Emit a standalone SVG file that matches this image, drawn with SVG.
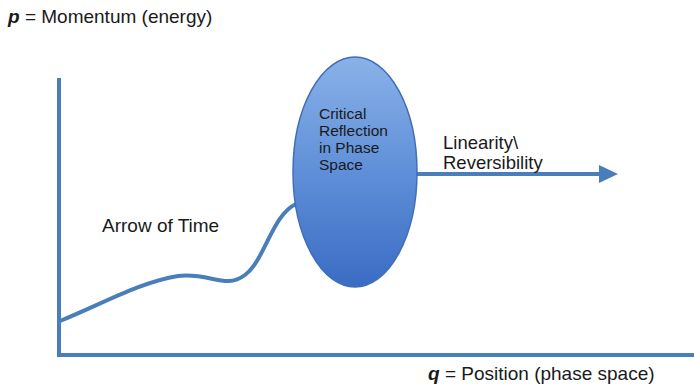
<svg xmlns="http://www.w3.org/2000/svg" width="694" height="392" viewBox="0 0 694 392">
<style>
.t{font-family:"Liberation Sans",Arial,sans-serif;fill:#1a1a1a}
.ln{fill:none;stroke:#4a7ebb;stroke-width:4}
</style>
<defs>
<linearGradient id="g" x1="0" y1="0" x2="0" y2="1">
<stop offset="0" stop-color="#8ab2e8"/>
<stop offset="0.5" stop-color="#5f8fd8"/>
<stop offset="1" stop-color="#3a6cc4"/>
</linearGradient>
</defs>
<rect width="694" height="392" fill="#ffffff"/>
<g id="axes">
<path class="ln" d="M59,78 L59,355 L694,355"/>
</g>
<g id="connectors">
<path class="ln" d="M60,321 C100,305 140,282 178,276 C210,272 225,290 245,275 C265,260 272,215 296,204"/>
<path class="ln" d="M416,174 L600,174"/>
<path d="M599,165 L618,174 L599,183 Z" fill="#4a7ebb"/>
</g>
<g id="critical">
<ellipse cx="355" cy="172" rx="62" ry="115" fill="url(#g)" stroke="#3f6fb8" stroke-width="1.5"/>
<text class="t" font-size="15.5"><tspan x="319" y="119">Critical</tspan><tspan x="319" y="136">Reflection</tspan><tspan x="319" y="153">in Phase</tspan><tspan x="319" y="170">Space</tspan></text>
</g>
<g id="labels">
<text class="t" x="8" y="23" font-size="19"><tspan font-weight="bold" font-style="italic">p</tspan> = Momentum (energy)</text>
<text class="t" x="102" y="232" font-size="19">Arrow of Time</text>
<text class="t" font-size="18.5"><tspan x="443" y="149">Linearity\</tspan><tspan x="443" y="169">Reversibility</tspan></text>
<text class="t" x="428" y="380" font-size="19"><tspan font-weight="bold" font-style="italic">q</tspan> = Position (phase space)</text>
</g>
</svg>
